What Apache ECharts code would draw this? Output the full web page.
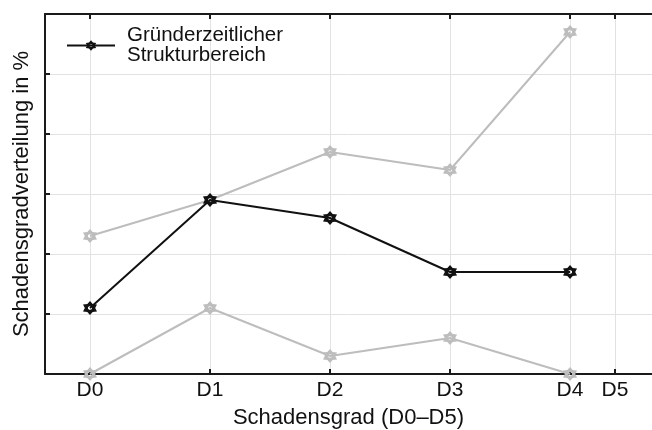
<!DOCTYPE html>
<html><head><meta charset="utf-8">
<script src="https://cdn.jsdelivr.net/npm/echarts@6/dist/echarts.min.js"></script>
<style>html,body{margin:0;padding:0;background:#fff}#c{width:652px;height:430px}</style>
</head><body><div id="c"></div>
<script>
const categories = ['D0','D1','D2','D3','D4','D5'];
const tickPositions = [0,1,2,3,4,4.375];
const mainName = 'Gründerzeitlicher\nStrukturbereich';
const mainValues = [11,29,26,17,17];
const upperValues = [23,29,37,34,57];
const lowerValues = [0,11,3,6,0];
const xName = 'Schadensgrad (D0–D5)';
const yName = 'Schadensgradverteilung in %';

const FONT = '"Liberation Sans", Arial, sans-serif';
const gear = 'path://M0,-10 L3.3,-5.7 L8.66,-5 L6.4,0 L8.66,5 L3.3,5.7 L0,10 L-3.3,5.7 L-8.66,5 L-6.4,0 L-8.66,-5 L-3.3,-5.7 Z M0,-2.8 L-2.42,-1.4 L-2.42,1.4 L0,2.8 L2.42,1.4 L2.42,-1.4 Z';
const pts = v => v.map((y,i)=>[i,y]);

const chart = echarts.init(document.getElementById('c'));
const axisCommon = {
  type:'value', min:-0.375, max:4.683,
  axisLine:{show:true, onZero:false, lineStyle:{color:'#1a1a1a', width:2}},
  axisTick:{show:true, inside:true, length:5, customValues:tickPositions, lineStyle:{color:'#1a1a1a', width:2}},
  splitLine:{show:false}
};
chart.setOption({
  animation:false,
  grid:{left:45, top:14, width:607, height:360, containLabel:false, outerBoundsMode:'none'},
  legend:{
    left:66, top:25, padding:0, itemWidth:48, itemHeight:13, itemGap:10,
    data:[mainName],
    textStyle:{fontFamily:FONT, fontSize:20.5, color:'#111', lineHeight:20, padding:[0,0,0,7]}
  },
  xAxis:[
    Object.assign({}, axisCommon, {
      position:'bottom',
      name:xName, nameLocation:'middle', nameGap:33,
      nameTextStyle:{fontFamily:FONT, fontSize:22, color:'#111'},
      axisLabel:{show:true, customValues:tickPositions, fontFamily:FONT, fontSize:21, color:'#111', margin:6,
        formatter:v=>{const i=tickPositions.indexOf(v);return i>=0?categories[i]:'';}},
      splitLine:{show:true, lineStyle:{color:'#e2e2e2', width:1}}
    }),
    Object.assign({}, axisCommon, {position:'top', axisLabel:{show:false}})
  ],
  yAxis:{
    type:'value', min:0, max:60, interval:10,
    name:yName, nameLocation:'middle', nameGap:12,
    nameTextStyle:{fontFamily:FONT, fontSize:22, color:'#111'},
    axisLine:{show:true, onZero:false, lineStyle:{color:'#1a1a1a', width:2}},
    axisTick:{show:true, inside:true, length:5, lineStyle:{color:'#1a1a1a', width:2}},
    axisLabel:{show:false},
    splitLine:{show:true, lineStyle:{color:'#e2e2e2', width:1}}
  },
  series:[
    {type:'line', name:'upper', data:pts(upperValues), symbol:gear, symbolSize:14,
     lineStyle:{color:'#bdbdbd', width:2}, itemStyle:{color:'#bdbdbd', borderWidth:0}, z:2},
    {type:'line', name:'lower', data:pts(lowerValues), symbol:gear, symbolSize:14,
     lineStyle:{color:'#bdbdbd', width:2}, itemStyle:{color:'#bdbdbd', borderWidth:0}, z:2},
    {type:'line', name:mainName, data:pts(mainValues), symbol:gear, symbolSize:14,
     lineStyle:{color:'#111', width:2}, itemStyle:{color:'#111', borderWidth:0}, z:3}
  ]
});
</script></body></html>
